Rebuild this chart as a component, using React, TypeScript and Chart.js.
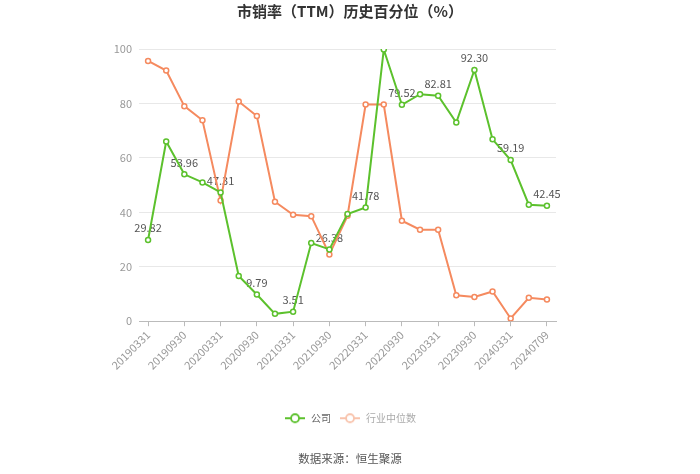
import { useEffect, useRef } from 'react';
import { Chart, registerables } from 'chart.js';

Chart.register(...registerables);

const FONT = '"Noto Sans CJK SC", "Noto Sans", sans-serif';

const titleText = '市销率（TTM）历史百分位（%）';
const sourceText = '数据来源：恒生聚源';
const seriesNames = ['公司', '行业中位数'];

const categories = [
  '20190331', '20190630', '20190930', '20191231', '20200331', '20200630',
  '20200930', '20201231', '20210331', '20210630', '20210930', '20211231',
  '20220331', '20220630', '20220930', '20221231', '20230331', '20230630',
  '20230930', '20231231', '20240331', '20240630', '20240709',
];

const companyValues = [
  29.82, 66.0, 53.96, 51.0, 47.31, 16.6, 9.79, 2.7, 3.51, 28.7, 26.38, 39.4,
  41.78, 99.8, 79.52, 83.4, 82.81, 73.0, 92.3, 66.8, 59.19, 42.8, 42.45,
];

const industryValues = [
  95.6, 92.1, 79.0, 73.8, 44.3, 80.7, 75.4, 43.9, 39.1, 38.6, 24.5, 38.7,
  79.6, 79.6, 36.9, 33.6, 33.6, 9.5, 8.9, 10.9, 1.0, 8.6, 8.0,
];

const labeledPoints = [0, 2, 4, 6, 8, 10, 12, 14, 16, 18, 20, 22];

const yTicks = [0, 20, 40, 60, 80, 100];

const GREEN = '#5cc12d';
const ORANGE = '#f58a5f';

function makeIcon(color: string): HTMLCanvasElement {
  const c = document.createElement('canvas');
  c.width = 20;
  c.height = 12;
  const ctx = c.getContext('2d')!;
  ctx.strokeStyle = color;
  ctx.lineWidth = 2;
  ctx.beginPath();
  ctx.moveTo(0, 6);
  ctx.lineTo(20, 6);
  ctx.stroke();
  ctx.beginPath();
  ctx.arc(10, 6, 4, 0, Math.PI * 2);
  ctx.fillStyle = '#fff';
  ctx.fill();
  ctx.lineWidth = 1.8;
  ctx.stroke();
  return c;
}

const valueLabelPlugin = {
  id: 'valueLabels',
  beforeDatasetsDraw(chart: any) {
    const ctx = chart.ctx;
    const meta = chart.getDatasetMeta(0);
    ctx.save();
    ctx.font = `11px ${FONT}`;
    ctx.fillStyle = '#555';
    ctx.textAlign = 'center';
    ctx.textBaseline = 'middle';
    labeledPoints.forEach((i) => {
      const el = meta.data[i];
      if (!el) return;
      ctx.fillText(companyValues[i].toFixed(2), el.x, el.y - 12);
    });
    ctx.restore();
  },
};

export default function App() {
  const ref = useRef<HTMLCanvasElement | null>(null);

  useEffect(() => {
    document.body.style.margin = '0';
    const icons = [makeIcon(GREEN), makeIcon('#f8c3ac')];
    const chart = new Chart(ref.current!, {
      type: 'line',
      data: {
        labels: categories,
        datasets: [
          {
            label: seriesNames[0],
            data: companyValues,
            borderColor: GREEN,
            backgroundColor: '#fff',
            borderWidth: 2,
            pointRadius: 2.5,
            pointBorderWidth: 1.5,
            pointBackgroundColor: '#fff',
            pointBorderColor: GREEN,
            tension: 0,
          },
          {
            label: seriesNames[1],
            data: industryValues,
            borderColor: ORANGE,
            backgroundColor: '#fff',
            borderWidth: 2,
            pointRadius: 2.5,
            pointBorderWidth: 1.5,
            pointBackgroundColor: '#fff',
            pointBorderColor: ORANGE,
            tension: 0,
          },
        ],
      },
      options: {
        responsive: false,
        animation: false,
        layout: { padding: { left: 0, right: 0, top: 0, bottom: 0 } },
        plugins: {
          title: {
            display: true,
            text: titleText,
            color: '#333',
            font: { size: 15, weight: 'bold', family: FONT },
            padding: { top: 2, bottom: 29 },
          },
          subtitle: {
            display: true,
            position: 'bottom',
            text: sourceText,
            color: '#555',
            font: { size: 11.5, family: FONT },
            padding: { top: 19, bottom: 8 },
          },
          legend: {
            position: 'bottom',
            labels: {
              usePointStyle: true,
              pointStyleWidth: 22,
              boxHeight: 10,
              padding: 8,
              font: { size: 10, family: FONT },
              generateLabels: () =>
                seriesNames.map((name, i) => ({
                  text: name,
                  fillStyle: '#fff',
                  strokeStyle: i === 0 ? GREEN : ORANGE,
                  lineWidth: 0,
                  pointStyle: icons[i],
                  fontColor: i === 0 ? '#666' : '#aaa',
                  hidden: false,
                  datasetIndex: i,
                })),
            },
          },
          tooltip: { enabled: false },
        },
        scales: {
          x: {
            offset: true,
            grid: { drawOnChartArea: false, drawTicks: true, tickLength: 5, color: '#bbb' },
            border: { color: '#bbb' },
            ticks: {
              minRotation: 45,
              maxRotation: 45,
              maxTicksLimit: 12,
              color: '#999',
              padding: 2,
              font: { size: 11, family: FONT },
            },
            afterFit: (s: any) => {
              s.height = 84;
            },
          },
          y: {
            min: yTicks[0],
            max: yTicks[yTicks.length - 1],
            afterBuildTicks: (s: any) => {
              s.ticks = yTicks.map((v) => ({ value: v }));
            },
            ticks: { color: '#999', padding: 7, font: { size: 11, family: FONT } },
            grid: { color: '#e8e8e8', drawTicks: false },
            border: { display: false },
            afterFit: (s: any) => {
              s.width = 139;
            },
          },
          rightSpace: {
            position: 'right',
            display: true,
            grid: { display: false },
            border: { display: false },
            ticks: { display: false },
            afterFit: (s: any) => {
              s.width = 144;
            },
          },
        },
      },
      plugins: [valueLabelPlugin],
    } as any);
    return () => chart.destroy();
  }, []);

  return (
    <div style={{ position: 'absolute', left: 0, top: 0, width: 700, height: 474, background: '#fff' }}>
      <canvas ref={ref} width={700} height={474} />
    </div>
  );
}
